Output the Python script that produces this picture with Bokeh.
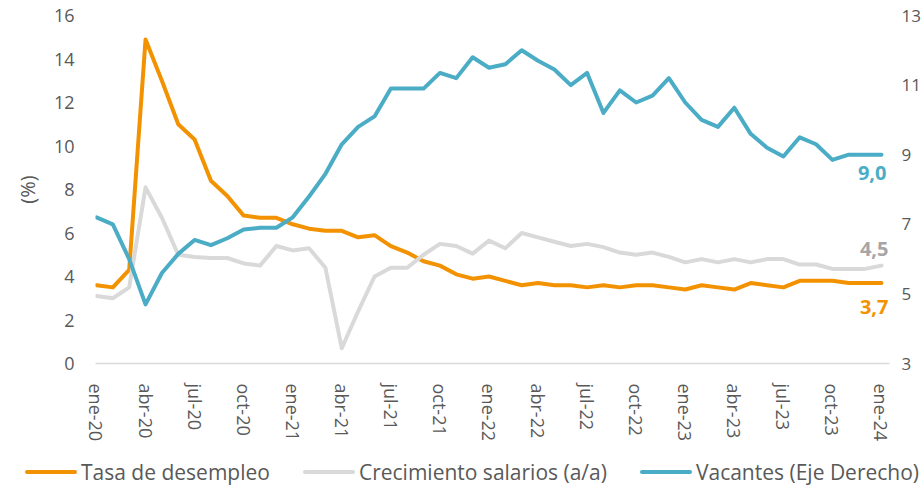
from bokeh.plotting import figure
from bokeh.layouts import column
from bokeh.models import Range1d, LinearAxis, FixedTicker, Label, Div
from bokeh.embed import file_html
from bokeh.resources import INLINE

# ---------------- data ----------------
months = ["ene-20", "feb-20", "mar-20", "abr-20", "may-20", "jun-20", "jul-20", "ago-20", "sep-20", "oct-20", "nov-20", "dic-20",
          "ene-21", "feb-21", "mar-21", "abr-21", "may-21", "jun-21", "jul-21", "ago-21", "sep-21", "oct-21", "nov-21", "dic-21",
          "ene-22", "feb-22", "mar-22", "abr-22", "may-22", "jun-22", "jul-22", "ago-22", "sep-22", "oct-22", "nov-22", "dic-22",
          "ene-23", "feb-23", "mar-23", "abr-23", "may-23", "jun-23", "jul-23", "ago-23", "sep-23", "oct-23", "nov-23", "dic-23",
          "ene-24"]

desempleo = [3.6, 3.5, 4.3, 14.9, 13.0, 11.0, 10.3, 8.4, 7.7, 6.8, 6.7, 6.7,
             6.4, 6.2, 6.1, 6.1, 5.8, 5.9, 5.4, 5.1, 4.7, 4.5, 4.1, 3.9,
             4.0, 3.8, 3.6, 3.7, 3.6, 3.6, 3.5, 3.6, 3.5, 3.6, 3.6, 3.5,
             3.4, 3.6, 3.5, 3.4, 3.7, 3.6, 3.5, 3.8, 3.8, 3.8, 3.7, 3.7, 3.7]

salarios = [3.1, 3.0, 3.5, 8.1, 6.7, 5.0, 4.9, 4.85, 4.85, 4.6, 4.5, 5.4,
            5.2, 5.3, 4.4, 0.7, 2.4, 4.0, 4.4, 4.4, 5.0, 5.5, 5.4, 5.05,
            5.65, 5.3, 6.0, 5.8, 5.6, 5.4, 5.5, 5.35, 5.1, 5.0, 5.1, 4.9,
            4.65, 4.8, 4.65, 4.8, 4.65, 4.8, 4.8, 4.55, 4.55, 4.35, 4.35, 4.35, 4.5]

vacantes = [7.2, 7.0, 6.0, 4.7, 5.6, 6.15, 6.55, 6.4, 6.6, 6.85, 6.9, 6.9,
            7.2, 7.8, 8.45, 9.3, 9.8, 10.1, 10.9, 10.9, 10.9, 11.35, 11.2, 11.8,
            11.5, 11.6, 12.0, 11.7, 11.45, 11.0, 11.35, 10.2, 10.85, 10.5, 10.7, 11.2,
            10.5, 10.0, 9.8, 10.35, 9.6, 9.2, 8.95, 9.5, 9.3, 8.85, 9.0, 9.0, 9.0]

left_ticks = [0, 2, 4, 6, 8, 10, 12, 14, 16]
right_ticks = [3, 5, 7, 9, 11, 13]
x_tick_step = 3

series_names = ["Tasa de desempleo", "Crecimiento salarios (a/a)", "Vacantes (Eje Derecho)"]
colors = ["#F39200", "#D9D9D9", "#4BACC6"]
label_colors = ["#F39200", "#A6A6A6", "#4BACC6"]

x = list(range(len(months)))
FONT = "Open Sans"
TXT = "#595959"

p = figure(frame_width=794, frame_height=348, output_backend="svg", toolbar_location=None,
           x_range=Range1d(-0.06, 48.49), y_range=Range1d(left_ticks[0], left_ticks[-1]),
           min_border_left=95, min_border_top=15, min_border_right=0, min_border_bottom=0)
p.extra_y_ranges = {"right": Range1d(right_ticks[0], right_ticks[-1])}
p.outline_line_color = None
p.xgrid.visible = False
p.ygrid.visible = False
p.background_fill_color = "white"
p.border_fill_color = "white"

# axes styling
xa = p.xaxis[0]
xa.ticker = FixedTicker(ticks=x[::x_tick_step])
xa.major_label_overrides = {i: months[i] for i in x[::x_tick_step]}
xa.major_label_orientation = "vertical"
xa.axis_line_color = "#D9D9D9"
xa.axis_line_width = 1.5
xa.major_tick_line_color = None
xa.minor_tick_line_color = None
xa.major_label_text_font = FONT
xa.major_label_text_font_size = "18px"
xa.major_label_text_color = TXT
xa.major_label_standoff = 14

ya = p.yaxis[0]
ya.ticker = FixedTicker(ticks=left_ticks)
ya.axis_line_color = None
ya.major_tick_line_color = None
ya.minor_tick_line_color = None
ya.major_label_text_font = FONT
ya.major_label_text_font_size = "18px"
ya.major_label_text_color = TXT
ya.major_label_standoff = 15
ya.axis_label = "(%)"
ya.axis_label_text_font = FONT
ya.axis_label_text_font_size = "20px"
ya.axis_label_text_font_style = "normal"
ya.axis_label_text_color = TXT
ya.axis_label_standoff = 10

ra = LinearAxis(y_range_name="right", ticker=FixedTicker(ticks=right_ticks))
ra.axis_line_color = None
ra.major_tick_line_color = None
ra.minor_tick_line_color = None
ra.major_label_text_font = FONT
ra.major_label_text_font_size = "17px"
ra.major_label_text_color = TXT
ra.major_label_standoff = 6
p.add_layout(ra, "right")

# lines
r1 = p.line(x, desempleo, line_color=colors[0], line_width=4, line_join="round", line_cap="round")
r2 = p.line(x, salarios, line_color=colors[1], line_width=4, line_join="round", line_cap="round")
r3 = p.line(x, vacantes, line_color=colors[2], line_width=4, line_join="round", line_cap="round",
            y_range_name="right")

# end labels (kept inside the plotting frame)
def fmt(v):
    return f"{v:.1f}".replace(".", ",")

p.add_layout(Label(x=x[-1], y=vacantes[-1], y_range_name="right", text=fmt(vacantes[-1]),
                   text_color=label_colors[2], text_font=FONT, text_font_size="20px", text_font_style="bold",
                   text_align="right", text_baseline="middle", x_offset=5, y_offset=-18))
p.add_layout(Label(x=x[-1], y=salarios[-1], text=fmt(salarios[-1]),
                   text_color=label_colors[1], text_font=FONT, text_font_size="20px", text_font_style="bold",
                   text_align="right", text_baseline="middle", x_offset=7, y_offset=17))
p.add_layout(Label(x=x[-1], y=desempleo[-1], text=fmt(desempleo[-1]),
                   text_color=label_colors[0], text_font=FONT, text_font_size="20px", text_font_style="bold",
                   text_align="right", text_baseline="middle", x_offset=7, y_offset=-24))

# legend strip below the chart
items = "".join(
    f'<span style="display:inline-flex;align-items:center;margin-right:33px;">'
    f'<span style="display:inline-block;width:52px;height:4px;border-radius:2px;background:{c};margin-right:4px;"></span>'
    f'{name}</span>'
    for name, c in zip(series_names, colors))
legend_div = Div(text=(f'<div style="display:flex;align-items:center;white-space:nowrap;'
                       f'font-family:\'{FONT}\';font-size:21px;color:{TXT};padding-left:20px;'
                       f'padding-top:6px;height:40px;">'
                       f'{items}</div>'),
                 width=913, height=48)

layout = column(p, legend_div, spacing=0)
open("out.html", "w").write(file_html(layout, INLINE))
